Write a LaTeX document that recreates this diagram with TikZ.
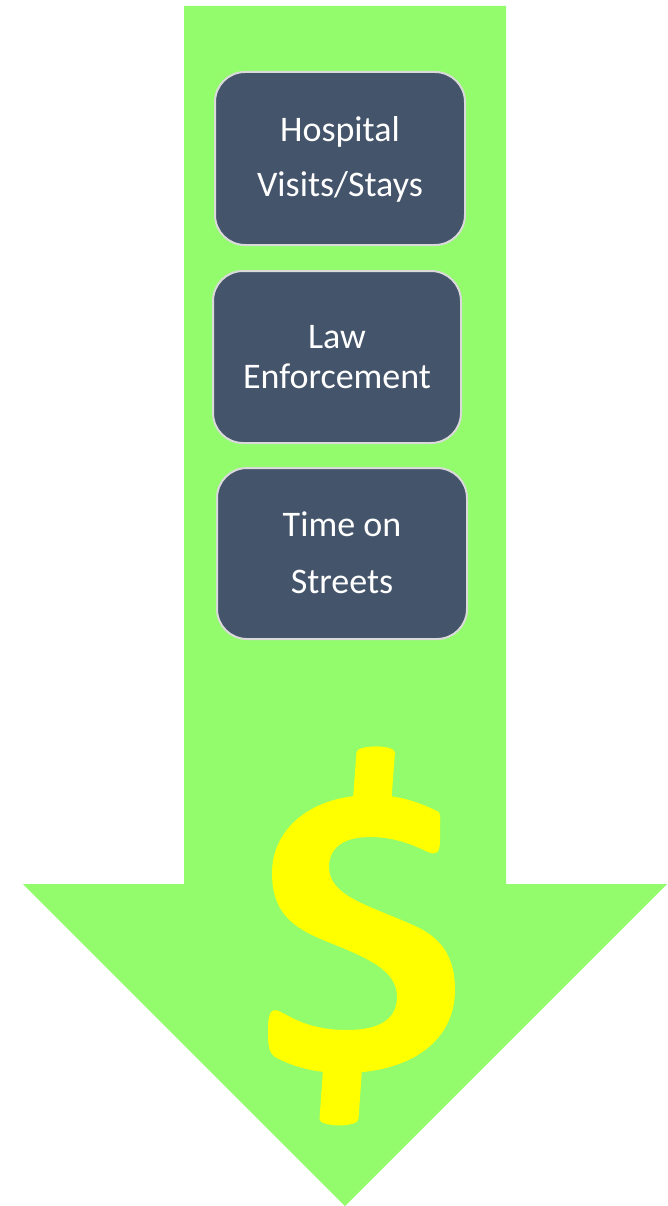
\documentclass[tikz,border=0pt]{standalone}
\usepackage{fontspec}
\setmainfont{Carlito}
\definecolor{arrowgreen}{HTML}{92FC6C}
\definecolor{boxslate}{HTML}{44546A}
\definecolor{boxedge}{HTML}{DADADA}
\definecolor{dollaryellow}{HTML}{FFFF00}
\begin{document}
\begin{tikzpicture}[x=1pt,y=-1pt,
  cardbox/.style={draw=boxedge, line width=2pt, fill=boxslate, rounded corners=30pt, inner sep=0pt},
  cardtext/.style={text=white, font=\fontsize{36}{40}\selectfont, anchor=base, inner sep=0pt},
  dollarpart/.style={fill=dollaryellow, draw=none}]
\useasboundingbox (0,0) rectangle (667,1206);
% arrow
\fill[arrowgreen] (184,6) -- (506,6) -- (506,884) -- (667,884) -- (345,1206) -- (23,884) -- (184,884) -- cycle;
% boxes
\node[cardbox, minimum width=250pt, minimum height=173pt] (b1) at (340,158.5) {};
\node[cardbox, minimum width=248pt, minimum height=172pt] (b2) at (337,357) {};
\node[cardbox, minimum width=250pt, minimum height=171pt] (b3) at (342,553.5) {};
% texts
\node[cardtext] (t1a) at (340,142) {Hospital};
\node[cardtext] (t1b) at (340,197) {Visits/Stays};
\node[cardtext] (t2a) at (337,348) {Law};
\node[cardtext] (t2b) at (337,388) {Enforcement};
\node[cardtext] (t3a) at (342,536) {Time on};
\node[cardtext] (t3b) at (342,593) {Streets};
% dollar sign
\path[dollarpart] (352,812) -- (356.5,752) .. controls (357,745) and (394.5,744) .. (395,752.5) -- (390.5,812) -- cycle;
\path[dollarpart] (324,1055) -- (319.5,1119) .. controls (319,1127) and (358,1128) .. (358.5,1119) -- (363,1055) -- cycle;
\path[dollarpart]
  (439,812) .. controls (415,800) and (395,795) .. (372,795)
  .. controls (312,795) and (272,828) .. (272,873)
  .. controls (272,912) and (292,927) .. (323,940)
  .. controls (368,958) and (397,970) .. (397,997)
  .. controls (397,1020) and (378,1030) .. (347,1030)
  .. controls (315,1030) and (297,1021) .. (281,1012)
  .. controls (270,1006) and (268,1015) .. (268,1030)
  .. controls (268,1048) and (269,1052) .. (275,1057)
  .. controls (295,1068) and (318,1073) .. (343,1073)
  .. controls (412,1073) and (455,1040) .. (455,990)
  .. controls (455,953) and (438,936) .. (413,925)
  .. controls (368,905) and (329,896) .. (329,867)
  .. controls (329,846) and (346,837) .. (370,837)
  .. controls (395,837) and (413,845) .. (428,852)
  .. controls (437,856) and (440,852) .. (440,840)
  .. controls (440,822) and (441,816) .. cycle;
\end{tikzpicture}
\end{document}
